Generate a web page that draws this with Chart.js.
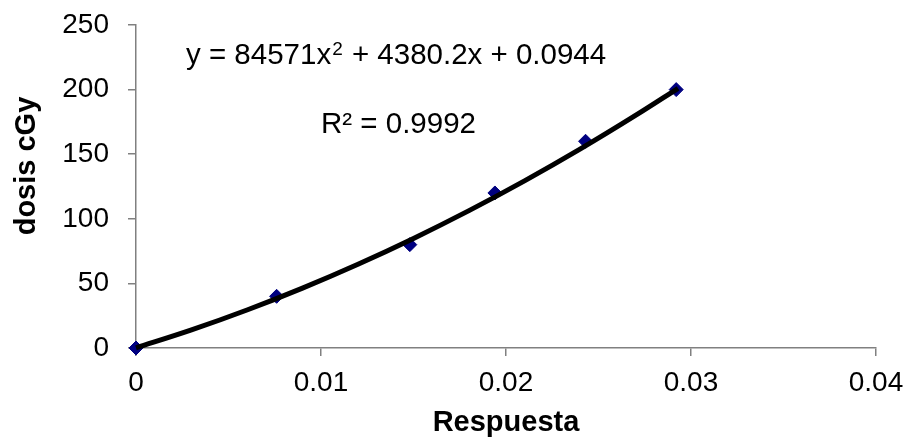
<!DOCTYPE html>
<html>
<head>
<meta charset="utf-8">
<script src="https://cdn.jsdelivr.net/npm/chart.js@4"></script>
<style>
  html, body { margin: 0; padding: 0; background: #ffffff; }
  #wrap { width: 905px; height: 438px; }
</style>
</head>
<body>
<div id="wrap"><canvas id="chart" width="905" height="438"></canvas></div>
<script>
// Measured points (Respuesta vs dosis)
const respuesta = [0, 0.0076, 0.0148, 0.0194, 0.0243, 0.0292];
const dosis = [0, 40, 80, 120, 160, 200];

const trendX = [0, 0.003, 0.006, 0.009, 0.012, 0.015, 0.018, 0.021, 0.024, 0.027, 0.0293];
const trendY = [0.09, 13.99, 29.42, 46.37, 64.83, 84.82, 106.33, 129.37, 153.93, 180.01, 201.03];

// Axis ticks
const xTicks = [0, 0.01, 0.02, 0.03, 0.04];
const xTickLabels = ['0', '0.01', '0.02', '0.03', '0.04'];
const yTicks = [0, 50, 100, 150, 200, 250];
const yTickLabels = ['0', '50', '100', '150', '200', '250'];

// Text
const xTitle = 'Respuesta';
const yTitle = 'dosis cGy';
const eqParts = ['y = 84571x', '2', ' + 4380.2x + 0.0944'];
const r2Text = 'R\u00B2 = 0.9992';

const FONT = '"Liberation Sans", Arial, Helvetica, sans-serif';
const AXIS_GREY = '#808080';

function toPoints(xs, ys) {
  return xs.map((x, i) => ({ x: x, y: ys[i] }));
}

// Draws the axis titles and the trendline labels
const annotations = {
  id: 'annotations',
  afterDraw(chart) {
    const ctx = chart.ctx;
    const area = chart.chartArea;
    ctx.save();
    ctx.fillStyle = '#000000';

    // x axis title
    ctx.font = 'bold 29px ' + FONT;
    ctx.textAlign = 'center';
    ctx.textBaseline = 'alphabetic';
    ctx.fillText(xTitle, (area.left + area.right) / 2, 431);

    // y axis title
    ctx.save();
    ctx.translate(35, 166);
    ctx.rotate(-Math.PI / 2);
    ctx.fillText(yTitle, 0, 0);
    ctx.restore();

    // trendline equation
    ctx.textAlign = 'left';
    ctx.font = '29.5px ' + FONT;
    let x = 186;
    ctx.fillText(eqParts[0], x, 64);
    x += ctx.measureText(eqParts[0]).width;
    ctx.font = '19px ' + FONT;
    ctx.fillText(eqParts[1], x + 1, 55);
    x += ctx.measureText(eqParts[1]).width + 2;
    ctx.font = '29.5px ' + FONT;
    ctx.fillText(eqParts[2], x, 64);

    // R squared
    ctx.fillText(r2Text, 321, 133);
    ctx.restore();
  }
};

new Chart(document.getElementById('chart'), {
  type: 'scatter',
  data: {
    datasets: [
      {
        type: 'line',
        label: 'Polinómica',
        data: toPoints(trendX, trendY),
        borderColor: '#000000',
        borderWidth: 5,
        pointRadius: 0,
        fill: false,
        cubicInterpolationMode: 'monotone',
        order: 0,
        clip: false
      },
      {
        label: 'dosis',
        data: toPoints(respuesta, dosis),
        pointStyle: 'rectRot',
        pointRadius: 7,
        pointBackgroundColor: '#000080',
        pointBorderColor: '#000080',
        pointBorderWidth: 1,
        showLine: false,
        order: 1,
        clip: false
      }
    ]
  },
  options: {
    responsive: false,
    animation: false,
    devicePixelRatio: 1,
    layout: { padding: { top: 25, right: 29, left: 0, bottom: 0 } },
    plugins: {
      legend: { display: false },
      tooltip: { enabled: false }
    },
    scales: {
      x: {
        type: 'linear',
        min: 0,
        max: 0.04,
        afterBuildTicks(scale) {
          scale.ticks = xTicks.map(v => ({ value: v }));
        },
        afterFit(scale) {
          scale.height = 90;
          scale.paddingLeft = 0;
          scale.paddingRight = 0;
        },
        ticks: {
          color: '#000000',
          font: { family: FONT, size: 28 },
          padding: 10,
          maxRotation: 0,
          autoSkip: false,
          callback: (v, i) => xTickLabels[i]
        },
        grid: {
          drawOnChartArea: false,
          drawTicks: true,
          tickLength: 8,
          color: AXIS_GREY,
          lineWidth: 1.5
        },
        border: { color: AXIS_GREY, width: 1.5 }
      },
      y: {
        type: 'linear',
        min: 0,
        max: 250,
        afterBuildTicks(scale) {
          scale.ticks = yTicks.map(v => ({ value: v }));
        },
        afterFit(scale) {
          scale.width = 136;
          scale.paddingTop = 0;
          scale.paddingBottom = 0;
        },
        ticks: {
          color: '#000000',
          font: { family: FONT, size: 28 },
          padding: 19,
          autoSkip: false,
          callback: (v, i) => yTickLabels[i]
        },
        grid: {
          drawOnChartArea: false,
          drawTicks: true,
          tickLength: 8,
          color: AXIS_GREY,
          lineWidth: 1.5
        },
        border: { color: AXIS_GREY, width: 1.5 }
      }
    }
  },
  plugins: [annotations]
});
</script>
</body>
</html>
